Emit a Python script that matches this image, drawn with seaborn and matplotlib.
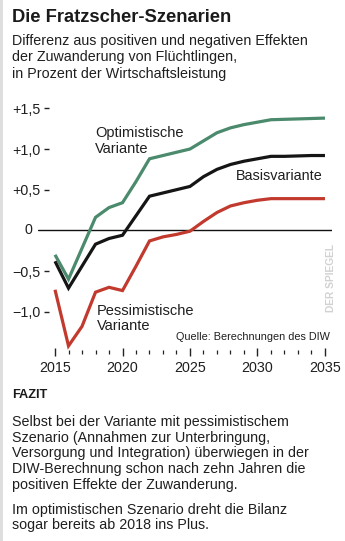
import matplotlib
matplotlib.use("Agg")
import matplotlib.pyplot as plt
import seaborn as sns
import pandas as pd
from matplotlib.patches import Rectangle

# ---------------- data ----------------
years = list(range(2015, 2036))
optimistisch = [-0.30, -0.60, -0.22, 0.16, 0.28, 0.34, 0.60, 0.88, 0.92, 0.96, 1.00,
                1.10, 1.20, 1.26, 1.30, 1.33, 1.36, 1.365, 1.37, 1.375, 1.38]
basis = [-0.38, -0.71, -0.44, -0.17, -0.10, -0.06, 0.18, 0.42, 0.46, 0.50, 0.54,
         0.66, 0.75, 0.81, 0.85, 0.88, 0.91, 0.91, 0.915, 0.92, 0.92]
pessimistisch = [-0.73, -1.42, -1.18, -0.76, -0.70, -0.74, -0.44, -0.13, -0.08, -0.05, -0.01,
                 0.11, 0.22, 0.30, 0.34, 0.37, 0.39, 0.39, 0.39, 0.39, 0.39]
variants = ["Optimistisch", "Basis", "Pessimistisch"]
colors = ["#4b8a6c", "#151515", "#c23a2e"]
ytick_vals = [-1.0, -0.5, 0.5, 1.0, 1.5]
ytick_labels = ["\u22121,0", "\u22120,5", "+0,5", "+1,0", "+1,5"]
zero_label = "0"
xtick_major = [2015, 2020, 2025, 2030, 2035]

title = "Die Fratzscher-Szenarien"
subtitle = "Differenz aus positiven und negativen Effekten\nder Zuwanderung von Flüchtlingen,\nin Prozent der Wirtschaftsleistung"
fazit_head = "FAZIT"
fazit_p1 = ("Selbst bei der Variante mit pessimistischem\nSzenario (Annahmen zur Unterbringung,\n"
            "Versorgung und Integration) überwiegen in der\nDIW-Berechnung schon nach zehn Jahren die\n"
            "positiven Effekte der Zuwanderung.")
fazit_p2 = "Im optimistischen Szenario dreht die Bilanz\nsogar bereits ab 2018 ins Plus."
source = "Quelle: Berechnungen des DIW"

df = pd.DataFrame({
    "Jahr": years * 3,
    "Wert": optimistisch + basis + pessimistisch,
    "Variante": [v for v in variants for _ in years],
})

# ---------------- layout ----------------
W, H = 345, 541
sns.set_theme(style="white")
FONT = ["Liberation Sans", "DejaVu Sans"]
plt.rcParams["font.family"] = FONT
TXT = "#1f1f1f"

fig = plt.figure(figsize=(W / 100, H / 100), dpi=100)
fig.patch.set_facecolor("white")

def fx(x):
    return x / W

def fy(y):
    return 1 - y / H

# axes: x px 38..332, y px 100.2..352.4
ax_l, ax_r, ax_t, ax_b = 38, 332, 100.2, 352.4
ax = fig.add_axes([fx(ax_l), fy(ax_b), (ax_r - ax_l) / W, (ax_b - ax_t) / H])
ax.set_facecolor("none")

sns.lineplot(data=df, x="Jahr", y="Wert", hue="Variante", palette=colors,
             hue_order=variants, linewidth=2.3, legend=False, ax=ax,
             solid_capstyle="butt", solid_joinstyle="miter")

ax.axhline(0, color="#111111", linewidth=1.0, zorder=0)

ax.set_xlim(2013.74, 2035.52)
ax.set_ylim(-1.5, 1.6)
for s in ax.spines.values():
    s.set_visible(False)
ax.spines["left"].set_position(("outward", -4))

ax.set_xticks(xtick_major)
ax.set_xticklabels([str(v) for v in xtick_major])
ax.set_xticks(years, minor=True)
ax.tick_params(axis="x", which="major", direction="inout", length=5.8, width=1.0,
               color="#222222", pad=3, labelsize=10.3, labelcolor=TXT, bottom=True)
ax.tick_params(axis="x", which="minor", direction="inout", length=2.9, width=0.9,
               color="#222222", bottom=True)
ax.set_yticks(ytick_vals)
ax.set_yticklabels(ytick_labels)
ax.tick_params(axis="y", which="major", direction="in", length=3.6, width=1.0,
               color="#222222", pad=2, labelsize=10.3, labelcolor=TXT, left=True)
ax.set_xlabel("")
ax.set_ylabel("")
ax.grid(False)

# zero label (no tick mark, sits left of the zero line)
ax.annotate(zero_label, xy=(0, 0), xycoords=("axes fraction", "data"),
            xytext=(-4, 0), textcoords="offset points", ha="right", va="center",
            fontsize=10.3, color=TXT)

# line labels
ax.text(2017.95, 1.10, "Optimistische\nVariante", fontsize=10.5, color=TXT,
        ha="left", va="center", linespacing=1.12)
ax.text(2031.6, 0.67, "Basisvariante", fontsize=10.4, color=TXT,
        ha="center", va="center")
ax.text(2018.1, -1.08, "Pessimistische\nVariante", fontsize=10.5, color=TXT,
        ha="left", va="center", linespacing=1.12)
fig.text(fx(330), fy(337), source, fontsize=7.8, color=TXT, ha="right", va="center")

# watermark
fig.text(fx(331), fy(278), "DER SPIEGEL", fontsize=7.4, fontweight="bold",
         color="#d2d2d2", rotation=90, ha="center", va="center")

# header texts
fig.text(fx(12), fy(18), title, fontsize=13.2, fontweight="bold", color="#1a1a1a",
         ha="left", va="center")
fig.text(fx(12), fy(57.5), subtitle, fontsize=10.3, color=TXT, ha="left",
         va="center", linespacing=1.22)

# FAZIT
fig.text(fx(12), fy(395), fazit_head, fontsize=9.2, fontweight="bold", color="#1a1a1a",
         ha="left", va="center")
fig.text(fx(12), fy(453.5), fazit_p1, fontsize=10.3, color=TXT, ha="left",
         va="center", linespacing=1.16)
fig.text(fx(12), fy(517.5), fazit_p2, fontsize=10.3, color=TXT, ha="left",
         va="center", linespacing=1.16)

# left border
fig.patches.append(Rectangle((0, 0), fx(2.5), 1, transform=fig.transFigure,
                             facecolor="#dedede", edgecolor="none", zorder=0))

fig.savefig("out.png", dpi=100, facecolor="white")
